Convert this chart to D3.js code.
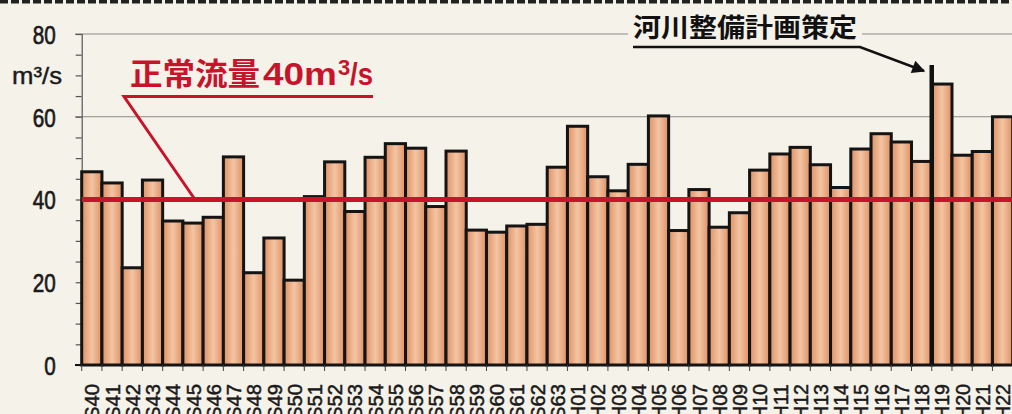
<!DOCTYPE html>
<html lang="ja">
<head>
<meta charset="utf-8">
<title>正常流量</title>
<script src="https://d3js.org/d3.v7.min.js"></script>
<style>
  body { margin: 0; background: #f5f2ea; }
  svg { display: block; }
  .num { font-family: 'Liberation Sans', Arial, sans-serif; }
  .jp { font-family: 'Noto Sans CJK JP', sans-serif; font-weight: 700; }
</style>
</head>
<body>
<svg id="chart" width="1012" height="414"></svg>
<script>
// 年度 (昭和40年〜平成22年)
var years = ["S40","S41","S42","S43","S44","S45","S46","S47","S48","S49",
             "S50","S51","S52","S53","S54","S55","S56","S57","S58","S59",
             "S60","S61","S62","S63",
             "H01","H02","H03","H04","H05","H06","H07","H08","H09","H10",
             "H11","H12","H13","H14","H15","H16","H17","H18","H19","H20",
             "H21","H22"];
// 流量 m3/s
var flows = [46.7, 44.0, 23.5, 44.7, 34.8, 34.3, 35.7, 50.3, 22.3, 30.7,
             20.5, 40.7, 49.1, 37.1, 50.2, 53.5, 52.4, 38.3, 51.7, 32.6,
             32.1, 33.6, 34.0, 47.8,
             57.7, 45.5, 42.1, 48.5, 60.2, 32.5, 42.4, 33.3, 36.8, 47.1,
             51.0, 52.6, 48.4, 42.9, 52.2, 55.9, 53.9, 49.2, 67.9, 50.7,
             51.6, 60.0];
var yTicks = [0, 20, 40, 60, 80];
var yMinorTicks = d3.range(0, 81, 5);
var gridValues = [60, 80];
var normalFlow = 40;
var planYear = "H19";

var svg = d3.select("#chart");
var bg = "#f5f2ea";

var x = d3.scaleBand().domain(years).range([81.7, 1012.7]).padding(0);
var y = d3.scaleLinear().domain([0, 80]).range([365, 34]);

// bar gradient
var grad = svg.append("defs").append("linearGradient")
  .attr("id", "barfill").attr("x1", "0").attr("x2", "1").attr("y1", "0").attr("y2", "0");
grad.append("stop").attr("offset", "0%").attr("stop-color", "#de9064");
grad.append("stop").attr("offset", "50%").attr("stop-color", "#f4c5a3");
grad.append("stop").attr("offset", "100%").attr("stop-color", "#de9064");

svg.select("defs").append("marker")
  .attr("id", "arrow").attr("viewBox", "0 0 10 10")
  .attr("refX", 9).attr("refY", 5)
  .attr("markerWidth", 6).attr("markerHeight", 5)
  .attr("markerUnits", "strokeWidth")
  .attr("orient", "auto")
  .append("path").attr("d", "M0,0L10,5L0,10z").attr("fill", "#111");

// top dashed border
svg.append("line")
  .attr("x1", 0).attr("x2", 1012).attr("y1", 1.5).attr("y2", 1.5)
  .attr("stroke", "#222").attr("stroke-width", 4).attr("stroke-dasharray", "8,3");

// grid
svg.selectAll(".grid").data(gridValues).enter().append("line")
  .attr("x1", 75).attr("x2", 1012)
  .attr("y1", function (d) { return y(d); }).attr("y2", function (d) { return y(d); })
  .attr("stroke", "#8a8a86").attr("stroke-width", 1.2);

// y axis
var yAxis = d3.axisLeft(y).tickValues(yMinorTicks).tickSize(6).tickPadding(20)
  .tickFormat(function (d) { return yTicks.indexOf(d) >= 0 ? d : ""; });
var gy = svg.append("g").attr("transform", "translate(81.7,0)").call(yAxis);
gy.attr("font-family", null);
gy.select(".domain").attr("stroke", "#555").attr("stroke-width", 1.2);
gy.selectAll(".tick line").attr("stroke", "#555").attr("stroke-width", 1.2);
gy.selectAll(".tick text").attr("class", "num").attr("font-size", 26)
  .attr("fill", "#1a1a1a").attr("stroke", "#1a1a1a").attr("stroke-width", 0.7)
  .attr("dy", "0.36em")
  .attr("textLength", function (d) { return String(d).length * 11.5; })
  .attr("lengthAdjust", "spacingAndGlyphs");

svg.append("text").attr("class", "num").attr("x", 62).attr("y", 84)
  .attr("text-anchor", "end").attr("font-size", 24).attr("fill", "#1a1a1a")
  .attr("stroke", "#1a1a1a").attr("stroke-width", 0.4)
  .attr("textLength", 50).attr("lengthAdjust", "spacingAndGlyphs")
  .text("m³/s");

// bars
svg.selectAll(".bar").data(flows).enter().append("rect")
  .attr("x", function (d, i) { return x(years[i]); })
  .attr("y", function (d) { return y(d); })
  .attr("width", x.bandwidth())
  .attr("height", function (d) { return y(0) - y(d); })
  .attr("fill", "url(#barfill)")
  .attr("stroke", "#141414").attr("stroke-width", 3);

// x ticks and labels
svg.append("line").attr("x1", 75).attr("x2", 1012).attr("y1", y(0)).attr("y2", y(0))
  .attr("stroke", "#141414").attr("stroke-width", 2);
svg.selectAll(".xt").data(years).enter().append("line")
  .attr("x1", function (d) { return x(d); }).attr("x2", function (d) { return x(d); })
  .attr("y1", y(0)).attr("y2", y(0) + 6)
  .attr("stroke", "#444").attr("stroke-width", 1);
svg.selectAll(".xl").data(years).enter().append("text")
  .attr("class", "num")
  .attr("transform", function (d) { return "translate(" + (x(d) + x.bandwidth() / 2) + ",384)rotate(-90)"; })
  .attr("dy", "0.36em").attr("text-anchor", "end")
  .attr("font-size", 21).attr("fill", "#1a1a1a")
  .attr("stroke", "#1a1a1a").attr("stroke-width", 0.5)
  .attr("textLength", 36).attr("lengthAdjust", "spacingAndGlyphs")
  .text(function (d) { return d; });

// normal flow line
svg.append("line").attr("x1", 81.7).attr("x2", 1012)
  .attr("y1", y(normalFlow)).attr("y2", y(normalFlow))
  .attr("stroke", "#c8142a").attr("stroke-width", 5);
svg.append("polyline")
  .attr("points", [[373, 96.5], [124, 96.5], [195, y(normalFlow)]].join(" "))
  .attr("fill", "none").attr("stroke", "#c8142a").attr("stroke-width", 3);
var red = svg.append("text").attr("y", 85).attr("fill", "#c8142a");
red.append("tspan").attr("class", "jp").attr("x", 130).attr("font-size", 31)
  .attr("textLength", 130).attr("lengthAdjust", "spacingAndGlyphs").text("正常流量");
red.append("tspan").attr("class", "num").attr("x", 263).attr("font-size", 31)
  .attr("font-weight", 700).attr("textLength", 74).attr("lengthAdjust", "spacingAndGlyphs").text("40m");
red.append("tspan").attr("class", "num").attr("x", 338).attr("font-size", 22).attr("font-weight", 700)
  .attr("dy", -10).text("3");
red.append("tspan").attr("class", "num").attr("x", 350).attr("font-size", 31).attr("font-weight", 700)
  .attr("dy", 10).attr("textLength", 23).attr("lengthAdjust", "spacingAndGlyphs").text("/s");

// plan annotation
svg.append("line").attr("x1", x(planYear)).attr("x2", x(planYear))
  .attr("y1", 65).attr("y2", y(0))
  .attr("stroke", "#111").attr("stroke-width", 4.5);
svg.append("rect").attr("x", 628).attr("y", 12).attr("width", 234).attr("height", 28).attr("fill", bg);
svg.append("text").attr("class", "jp").attr("x", 633).attr("y", 37)
  .attr("font-size", 26).attr("textLength", 224).attr("lengthAdjust", "spacingAndGlyphs")
  .attr("fill", "#111").text("河川整備計画策定");
svg.append("polyline")
  .attr("points", [[633, 47], [860, 47], [924, 71]].join(" "))
  .attr("fill", "none").attr("stroke", "#111").attr("stroke-width", 2.6)
  .attr("marker-end", "url(#arrow)");
</script>
</body>
</html>
